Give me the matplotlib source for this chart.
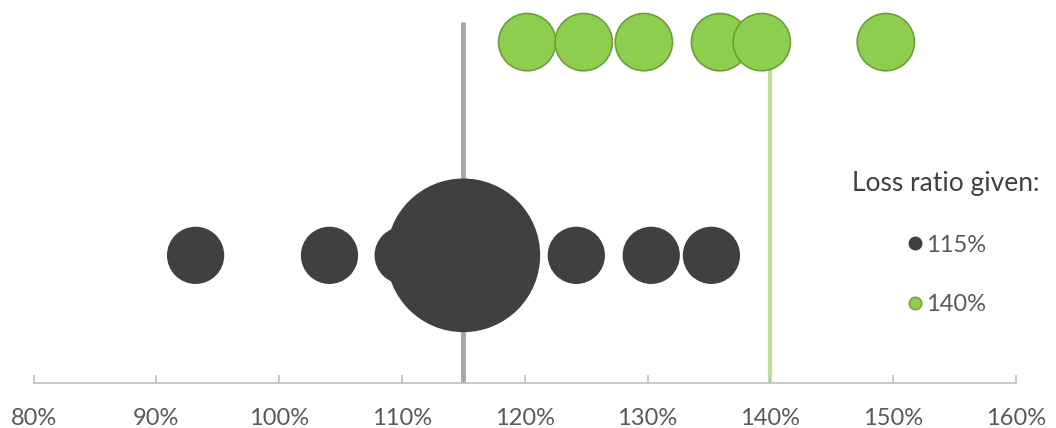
import matplotlib
matplotlib.use("Agg")
import matplotlib.pyplot as plt
from matplotlib.lines import Line2D

plt.rcParams['font.family'] = ['Lato', 'DejaVu Sans']

# loss ratio (%) of each bubble and its bubble size (count)
dark_x = [93.2, 104.1, 110.1, 115.0, 124.2, 130.3, 135.2]
dark_size = [1, 1, 1, 7.2, 1, 1, 1]
green_x = [120.2, 124.8, 129.7, 135.9, 139.3, 149.4]
green_size = [1, 1, 1, 1, 1, 1]
row_y = {'115%': 1.0, '140%': 2.67}
given = {'115%': 115, '140%': 140}
ticks = [80, 90, 100, 110, 120, 130, 140, 150, 160]

dark = '#404040'
green = '#8dce4f'
green_edge = '#6e9e35'
grey_line = '#a6a6a6'
green_line = '#bfe09a'
axis_col = '#bfbfbf'
text_col = '#595959'

fig = plt.figure(figsize=(10.56, 4.28), dpi=100)
ax = fig.add_axes([33.5 / 1056, 45 / 428, (1016 - 33.5) / 1056, 383 / 428])

base = 1700
ax.vlines(given['115%'], 0, 2.83, color=grey_line, lw=3.5, zorder=1)
ax.vlines(given['140%'], 0, row_y['140%'], color=green_line, lw=3, zorder=1)

ax.scatter(dark_x, [row_y['115%']] * len(dark_x), s=[v * base for v in dark_size],
           color=dark, edgecolor='none', zorder=2)
ax.scatter(green_x, [row_y['140%']] * len(green_x), s=[v * base for v in green_size],
           color=green, edgecolor=green_edge, linewidth=1.2, zorder=2)

ax.set_xlim(80, 160)
ax.set_ylim(0, 3.0)
ax.set_xticks(ticks)
ax.set_xticklabels(['%d%%' % t for t in ticks], fontsize=17, color=text_col)
ax.set_yticks([])
for s in ['left', 'right', 'top']:
    ax.spines[s].set_visible(False)
ax.spines['bottom'].set_color(axis_col)
ax.spines['bottom'].set_linewidth(1.2)
ax.tick_params(axis='x', direction='in', length=6, width=1.2, color=axis_col, pad=18)

handles = [Line2D([], [], marker='o', ls='', color=dark, markersize=9),
           Line2D([], [], marker='o', ls='', markerfacecolor=green,
                  markeredgecolor=green_edge, markersize=9)]
leg = ax.legend(handles, ['115%', '140%'], title='Loss ratio given:', frameon=False,
                loc='center', bbox_to_anchor=(946 / 1056, 1 - 243 / 428),
                bbox_transform=fig.transFigure, fontsize=17, title_fontsize=19,
                labelspacing=1.65, handletextpad=0.05, handlelength=0.8)
for t in leg.get_texts():
    t.set_color(text_col)
leg.get_title().set_color(dark)

fig.savefig('out.png', dpi=100)
